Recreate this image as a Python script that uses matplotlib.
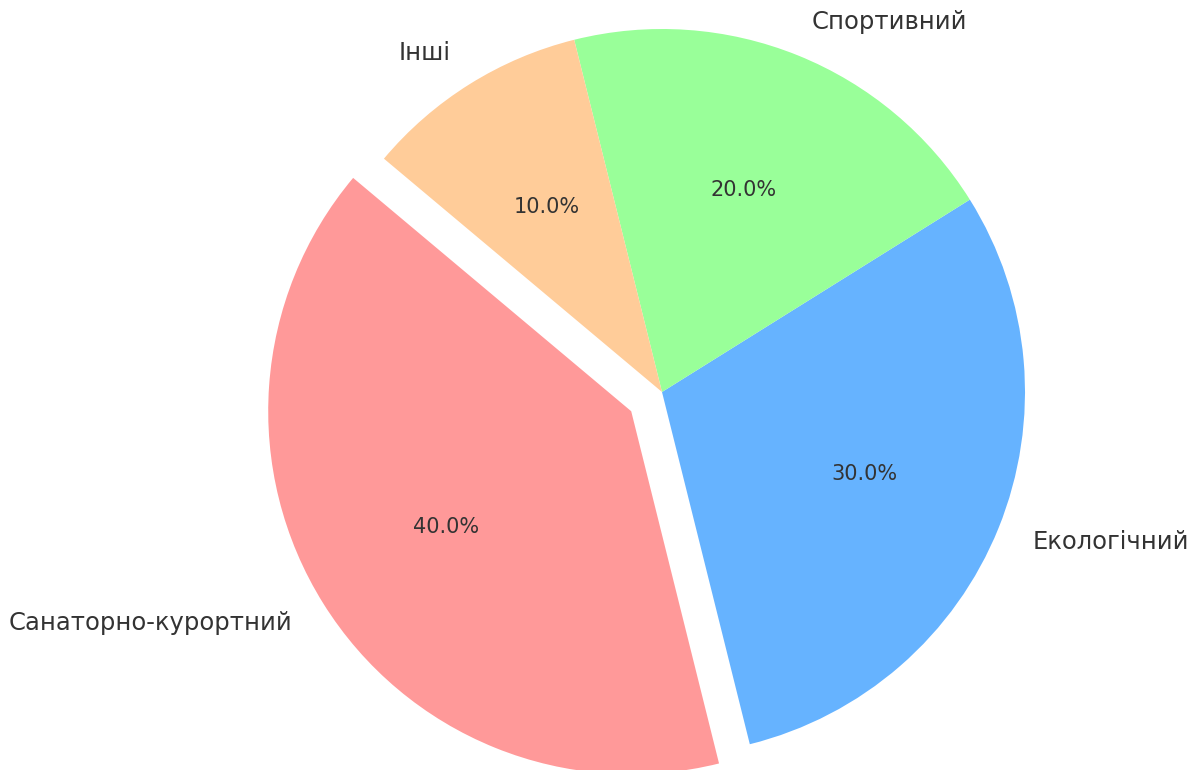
import matplotlib
matplotlib.use('Agg')
import matplotlib.pyplot as plt

plt.rcParams['font.family'] = ['DejaVu Sans']

# дані
labels = ['Санаторно-курортний', 'Екологічний', 'Спортивний', 'Інші']
sizes = [40, 30, 20, 10]
colors = ['#ff9999', '#66b3ff', '#99ff99', '#ffcc99']
explode = [0.1, 0, 0, 0]

fig = plt.figure(figsize=(12.01, 7.70), dpi=100)
ax = fig.add_axes([0, 0, 1, 1])

wedges, texts, autotexts = ax.pie(sizes, labels=labels, colors=colors, explode=explode,
                                  autopct='%1.1f%%', startangle=140,
                                  textprops={'color': '#333333'})
for t in texts:
    t.set_fontsize(17.5)
for t in autotexts:
    t.set_fontsize(15)

# масштаб: радіус 1 = 363 px, центр у (662, 392)
R = 363.0
ax.set_xlim(-662 / R, (1201 - 662) / R)
ax.set_ylim(-(770 - 392) / R, 392 / R)
ax.set_aspect('equal')
ax.axis('off')

fig.savefig('out.png', dpi=100)
